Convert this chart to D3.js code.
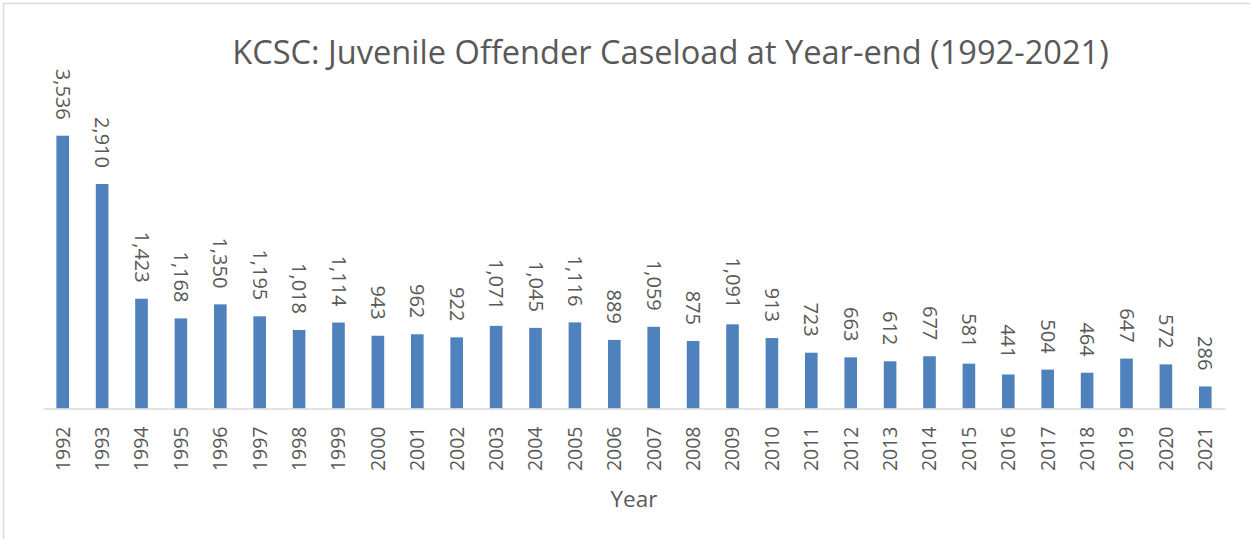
<!DOCTYPE html>
<html>
<head>
<meta charset="utf-8">
<script src="https://cdn.jsdelivr.net/npm/d3@7"></script>
<style>
  html, body { margin: 0; padding: 0; background: #fff; }
  svg { display: block; }
</style>
</head>
<body>
<svg id="chart" width="1250" height="539"></svg>
<script>
const years = ["1992","1993","1994","1995","1996","1997","1998","1999","2000","2001","2002","2003","2004","2005","2006","2007","2008","2009","2010","2011","2012","2013","2014","2015","2016","2017","2018","2019","2020","2021"];
const caseload = [3536,2910,1423,1168,1350,1195,1018,1114,943,962,922,1071,1045,1116,889,1059,875,1091,913,723,663,612,677,581,441,504,464,647,572,286];
const titleText = "KCSC: Juvenile Offender Caseload at Year-end (1992-2021)";
const xAxisTitle = "Year";
const yDomain = [0, 4000];

const W = 1250, H = 539;
const left = 43, right = 1225, baseY = 408.5, topY = 99.9;
const font = "'Open Sans', sans-serif";
const textColor = "#595959";

const svg = d3.select("#chart");

// chart border
svg.append("rect")
  .attr("x", 3.5).attr("y", 3.5)
  .attr("width", W + 20).attr("height", H + 20)
  .attr("fill", "#fff").attr("stroke", "#d9d9d9").attr("stroke-width", 1.5);

const x = d3.scaleBand().domain(years).range([left, right]).paddingInner(0.68).paddingOuter(0.34);
const y = d3.scaleLinear().domain(yDomain).range([baseY, topY]);

const data = years.map((yr, i) => ({ year: yr, value: caseload[i] }));

// bars
svg.append("g").selectAll("rect").data(data).join("rect")
  .attr("x", d => x(d.year))
  .attr("y", d => y(d.value))
  .attr("width", x.bandwidth())
  .attr("height", d => y(0) - y(d.value))
  .attr("fill", "#4f81bd");

// x axis
const xAxis = d3.axisBottom(x).tickSize(0).tickPadding(0);
const gx = svg.append("g").attr("transform", `translate(0,${baseY})`).call(xAxis);
gx.select(".domain").attr("stroke", "#d9d9d9").attr("stroke-width", 1.5);
gx.selectAll(".tick text")
  .attr("font-family", font).attr("font-size", 19.5).attr("fill", textColor)
  .attr("text-anchor", "end")
  .attr("transform", "rotate(-90)")
  .attr("x", -18).attr("y", 0).attr("dy", "0.35em");

// value labels
const fmt = d3.format(",");
svg.append("g").selectAll("text").data(data).join("text")
  .attr("transform", d => `translate(${x(d.year) + x.bandwidth() / 2},${y(d.value) - 16}) rotate(90)`)
  .attr("text-anchor", "end")
  .attr("dy", "0.35em")
  .attr("font-family", font).attr("font-size", 20).attr("fill", textColor)
  .text(d => fmt(d.value));

// title
svg.append("text")
  .attr("x", 670.5).attr("y", 63.5)
  .attr("text-anchor", "middle")
  .attr("font-family", font).attr("font-size", 32.6).attr("fill", textColor)
  .text(titleText);

// axis title
svg.append("text")
  .attr("x", (left + right) / 2).attr("y", 507)
  .attr("text-anchor", "middle")
  .attr("font-family", font).attr("font-size", 22.5).attr("fill", textColor)
  .text(xAxisTitle);
</script>
</body>
</html>
